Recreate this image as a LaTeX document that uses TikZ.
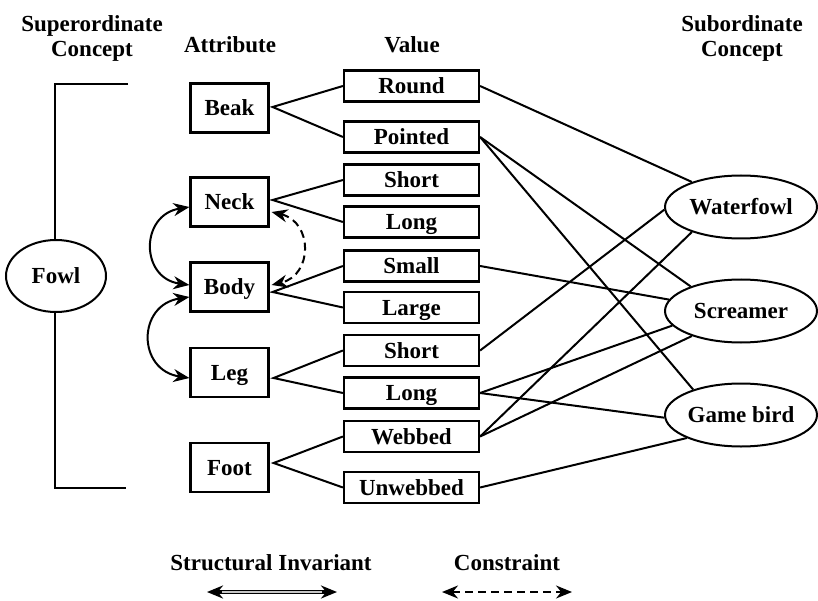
\documentclass[tikz,border=0pt]{standalone}
\usepackage{fontspec}
\setmainfont{Liberation Serif}
\usetikzlibrary{shapes.geometric,arrows.meta}
\begin{document}
\begin{tikzpicture}[x=1pt,y=1pt,
  font=\fontsize{23}{25}\selectfont\bfseries,
  txt/.style={text height=15pt, text depth=0pt, inner sep=0pt},
  attr/.style={txt, draw, line width=2.2pt, minimum width=78pt, minimum height=49pt},
  val/.style={txt, draw, line width=2.2pt, minimum width=135pt, minimum height=31pt},
  sub/.style={draw, ellipse, line width=2pt, fill=white, inner sep=0pt, minimum width=152pt, minimum height=63pt},
  head/.style={align=center, inner sep=0pt},
  link/.style={line width=2pt},
  inv/.style={line width=2pt, {Stealth[length=16pt,width=13pt]}-{Stealth[length=16pt,width=13pt]}},
  cons/.style={inv, dash pattern=on 8pt off 5pt}
]
\useasboundingbox (0,0) rectangle (818,-601);

% column headings
\node[head] (hsup) at (92,-38) {Superordinate\\Concept};
\node[head, anchor=base] (hattr) at (230,-53) {Attribute};
\node[head, anchor=base] (hval) at (412,-53) {Value};
\node[head] (hsub) at (742,-38) {Subordinate\\Concept};

% bracket with the superordinate concept
\coordinate (btop) at (128,-84);
\coordinate (bbot) at (126,-488);
\draw[line width=2pt] (btop) -- (55,-84) -- (55,-488) -- (bbot);
\node[sub, minimum width=100pt, minimum height=72pt] (fowl) at (56,-276) {Fowl};

% attributes
\node[attr] (beak) at (229.5,-108) {Beak};
\node[attr] (neck) at (229.5,-202) {Neck};
\node[attr] (body) at (229.5,-287) {Body};
\node[attr] (leg)  at (229.5,-372.5) {Leg};
\node[attr] (foot) at (229.5,-467.5) {Foot};

% values
\node[val] (round)    at (411.5,-86)  {Round};
\node[val] (pointed)  at (411.5,-137) {Pointed};
\node[val] (nshort)   at (411.5,-180) {Short};
\node[val] (nlong)    at (411.5,-222) {Long};
\node[val] (small)    at (411.5,-266) {Small};
\node[val] (large)    at (411.5,-307.5) {Large};
\node[val] (lshort)   at (411.5,-350.5) {Short};
\node[val] (llong)    at (411.5,-393) {Long};
\node[val] (webbed)   at (411.5,-436.5) {Webbed};
\node[val] (unwebbed) at (411.5,-487.5) {Unwebbed};

% subordinate concepts
\node[sub] (waterfowl) at (741,-207) {Waterfowl};
\node[sub] (screamer)  at (741,-311) {Screamer};
\node[sub] (gamebird)  at (741,-415) {Game bird};

% attribute -> value forks
\coordinate (beakR) at ([xshift=3pt,yshift=1pt]beak.east);
\coordinate (neckR) at ([xshift=3pt,yshift=2pt]neck.east);
\coordinate (bodyR) at ([xshift=3pt,yshift=-5pt]body.east);
\coordinate (legR)  at ([xshift=4pt,yshift=-5.5pt]leg.east);
\coordinate (footR) at ([xshift=4pt,yshift=4.5pt]foot.east);
\draw[link] (round.west) -- (beakR) -- (pointed.west);
\draw[link] (nshort.west) -- (neckR) -- (nlong.west);
\draw[link] (small.west) -- (bodyR) -- (large.west);
\draw[link] (lshort.west) -- (legR) -- (llong.west);
\draw[link] (webbed.west) -- (footR) -- (unwebbed.west);

% value -> subordinate concept links
\draw[link] (round.east) -- (waterfowl.153);
\draw[link] (pointed.east) -- (screamer.154);
\draw[link] (pointed.east) -- (gamebird.152);
\draw[link] (small.east) -- (screamer.171);
\draw[link] (lshort.east) -- (waterfowl.182);
\draw[link] (llong.east) -- (screamer.192);
\draw[link] (llong.east) -- (gamebird.182);
\draw[link] (webbed.east) -- (waterfowl.207);
\draw[link] (webbed.east) -- (screamer.207);
\draw[link] (unwebbed.east) -- (gamebird.203);

% structural invariants
\draw[inv] ([yshift=-5pt]neck.west) .. controls (140,-215) and (140,-278) .. ([yshift=2pt]body.west);
\draw[inv] ([yshift=-10pt]body.west) .. controls (137,-305) and (137,-370) .. ([yshift=-5.5pt]leg.west);

% constraint
\draw[cons] ([xshift=2pt,yshift=-10pt]neck.east) .. controls (313,-222) and (313,-275) .. ([xshift=2pt,yshift=2pt]body.east);

% legend
\node[head, anchor=base] (linv) at (271,-570) {Structural Invariant};
\node[head, anchor=base] (lcons) at (507,-570) {Constraint};
\coordinate (invA) at (207,-592);
\coordinate (invB) at (337,-592);
\coordinate (consA) at (442,-592);
\coordinate (consB) at (572,-592);
\draw[inv, line width=3.8pt] (invA) -- (invB);
\draw[gray!45, line width=1.1pt, shorten <=15pt, shorten >=15pt] (invA) -- (invB);
\draw[cons] (consA) -- (consB);
\end{tikzpicture}
\end{document}
